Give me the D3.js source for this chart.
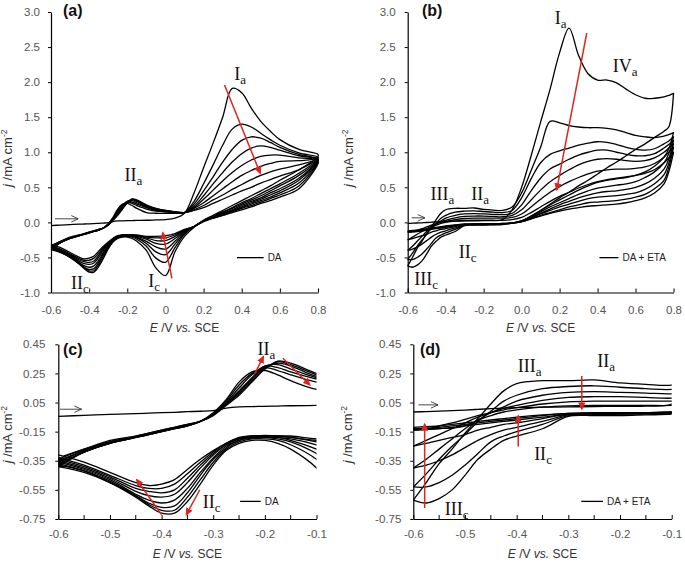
<!DOCTYPE html>
<html>
<head>
<meta charset="utf-8">
<script src="https://cdn.jsdelivr.net/npm/d3@7/dist/d3.min.js"></script>
<style>
html,body{margin:0;padding:0;background:#fff;}
svg{display:block;}
</style>
</head>
<body>
<svg id="fig" width="685" height="564"></svg>
<script>
// ================= DATA =================
// Potential grid (V vs. SCE) for DA cycles (panels a and c)
const potentialDA = [-0.6,-0.55,-0.5,-0.45,-0.425,-0.4,-0.375,-0.35,-0.325,-0.3,-0.275,-0.25,-0.225,-0.2,-0.175,-0.15,-0.1,-0.05,0,0.05,0.1,0.15,0.2,0.25,0.3,0.35,0.4,0.45,0.5,0.55,0.6,0.7,0.8];
// Forward (anodic-going) scans, cycles 1..8, j / mA cm-2
const forwardDA = [
 [-0.045,-0.038,-0.032,-0.026,-0.023,-0.02,-0.017,-0.013,-0.01,-0.005,0.012,0.02,0.022,0.024,0.026,0.028,0.03,0.035,0.04,0.06,0.13,0.42,0.78,1.13,1.5,1.91,1.85,1.63,1.44,1.3,1.18,1.04,0.97],
 [-0.39,-0.29,-0.23,-0.19,-0.17,-0.15,-0.13,-0.11,-0.08,-0.02,0.07,0.19,0.26,0.27,0.24,0.2,0.14,0.13,0.13,0.13,0.14,0.3,0.55,0.82,1.1,1.33,1.4,1.36,1.27,1.18,1.1,0.99,0.93],
 [-0.38,-0.29,-0.23,-0.19,-0.17,-0.15,-0.13,-0.11,-0.08,-0.025,0.06,0.17,0.25,0.29,0.27,0.24,0.19,0.16,0.15,0.14,0.14,0.26,0.45,0.65,0.86,1.04,1.17,1.22,1.2,1.14,1.07,0.97,0.91],
 [-0.37,-0.29,-0.23,-0.19,-0.17,-0.15,-0.13,-0.11,-0.08,-0.03,0.05,0.15,0.24,0.3,0.29,0.26,0.21,0.17,0.155,0.14,0.14,0.23,0.38,0.55,0.71,0.86,0.98,1.06,1.09,1.07,1.03,0.95,0.9],
 [-0.36,-0.28,-0.22,-0.185,-0.165,-0.145,-0.125,-0.105,-0.08,-0.03,0.045,0.13,0.22,0.3,0.31,0.28,0.22,0.18,0.16,0.145,0.14,0.21,0.33,0.46,0.59,0.71,0.81,0.89,0.94,0.96,0.96,0.92,0.89],
 [-0.35,-0.28,-0.22,-0.185,-0.165,-0.145,-0.125,-0.105,-0.08,-0.035,0.04,0.12,0.21,0.29,0.32,0.3,0.23,0.19,0.165,0.145,0.14,0.2,0.28,0.38,0.48,0.58,0.67,0.74,0.8,0.84,0.87,0.88,0.89],
 [-0.34,-0.27,-0.22,-0.18,-0.16,-0.14,-0.12,-0.1,-0.08,-0.035,0.035,0.11,0.2,0.28,0.33,0.31,0.24,0.195,0.17,0.15,0.14,0.18,0.24,0.32,0.39,0.47,0.54,0.61,0.67,0.72,0.76,0.82,0.88],
 [-0.33,-0.27,-0.21,-0.18,-0.16,-0.14,-0.12,-0.1,-0.08,-0.04,0.03,0.1,0.19,0.28,0.335,0.32,0.25,0.2,0.17,0.15,0.14,0.17,0.21,0.27,0.33,0.39,0.45,0.5,0.56,0.61,0.66,0.75,0.88]
];
// Reverse (cathodic-going) scans, same cycles, values listed at the ascending grid
const reverseDA = [
 [-0.39,-0.43,-0.5,-0.6,-0.66,-0.71,-0.71,-0.63,-0.51,-0.38,-0.28,-0.23,-0.21,-0.21,-0.23,-0.27,-0.4,-0.65,-0.76,-0.42,-0.2,-0.07,0.03,0.1,0.17,0.24,0.31,0.38,0.45,0.52,0.6,0.75,0.94],
 [-0.38,-0.42,-0.5,-0.59,-0.65,-0.69,-0.69,-0.6,-0.48,-0.36,-0.27,-0.22,-0.2,-0.2,-0.21,-0.24,-0.34,-0.51,-0.57,-0.36,-0.17,-0.06,0.03,0.09,0.15,0.21,0.28,0.34,0.41,0.48,0.55,0.7,0.9],
 [-0.37,-0.42,-0.49,-0.59,-0.64,-0.67,-0.66,-0.57,-0.45,-0.34,-0.26,-0.21,-0.195,-0.19,-0.2,-0.22,-0.3,-0.42,-0.46,-0.31,-0.15,-0.06,0.02,0.08,0.14,0.2,0.26,0.32,0.38,0.45,0.52,0.67,0.89],
 [-0.36,-0.41,-0.48,-0.58,-0.62,-0.64,-0.62,-0.54,-0.43,-0.33,-0.25,-0.21,-0.19,-0.19,-0.19,-0.21,-0.27,-0.35,-0.38,-0.27,-0.14,-0.06,0.02,0.08,0.13,0.18,0.24,0.3,0.35,0.42,0.48,0.63,0.88],
 [-0.35,-0.4,-0.47,-0.56,-0.59,-0.6,-0.58,-0.5,-0.4,-0.31,-0.24,-0.2,-0.19,-0.185,-0.19,-0.2,-0.24,-0.3,-0.31,-0.23,-0.13,-0.06,0.02,0.07,0.12,0.17,0.22,0.28,0.33,0.39,0.45,0.6,0.87],
 [-0.34,-0.39,-0.46,-0.54,-0.56,-0.57,-0.55,-0.47,-0.38,-0.3,-0.24,-0.2,-0.185,-0.18,-0.18,-0.19,-0.22,-0.26,-0.26,-0.2,-0.12,-0.06,0.02,0.07,0.11,0.16,0.21,0.26,0.31,0.36,0.42,0.56,0.86],
 [-0.33,-0.38,-0.45,-0.52,-0.54,-0.54,-0.51,-0.44,-0.36,-0.29,-0.23,-0.195,-0.18,-0.18,-0.18,-0.19,-0.21,-0.22,-0.22,-0.18,-0.11,-0.06,0.02,0.06,0.1,0.15,0.2,0.24,0.29,0.34,0.39,0.52,0.85],
 [-0.31,-0.36,-0.43,-0.5,-0.52,-0.51,-0.48,-0.41,-0.34,-0.28,-0.23,-0.19,-0.18,-0.175,-0.18,-0.18,-0.2,-0.2,-0.19,-0.16,-0.1,-0.06,0.01,0.06,0.1,0.14,0.18,0.22,0.27,0.31,0.36,0.48,0.84]
];

// Potential grid for DA + ETA cycles (panels b and d)
const potentialETA = [-0.6,-0.575,-0.55,-0.525,-0.5,-0.475,-0.45,-0.425,-0.4,-0.35,-0.3,-0.25,-0.2,-0.15,-0.1,-0.05,0,0.05,0.1,0.15,0.2,0.25,0.3,0.35,0.4,0.45,0.5,0.55,0.6,0.65,0.7,0.75,0.775,0.8];
const forwardETA = [
 [-0.015,-0.012,-0.009,-0.006,-0.002,0.003,0.008,0.012,0.015,0.018,0.02,0.022,0.024,0.025,0.04,0.18,0.5,0.95,1.43,1.9,2.42,2.77,2.38,2.12,2.03,2.03,1.99,1.9,1.82,1.77,1.77,1.79,1.81,1.84],
 [-0.62,-0.5,-0.37,-0.27,-0.16,-0.06,0.04,0.13,0.18,0.2,0.2,0.205,0.185,0.175,0.17,0.22,0.42,0.74,1.07,1.44,1.42,1.38,1.36,1.35,1.35,1.34,1.32,1.28,1.24,1.22,1.21,1.23,1.25,1.28],
 [-0.53,-0.44,-0.34,-0.25,-0.17,-0.08,-0.01,0.06,0.1,0.145,0.16,0.165,0.155,0.145,0.14,0.17,0.35,0.62,0.85,0.97,1.02,1.06,1.1,1.13,1.15,1.14,1.11,1.07,1.04,1.03,1.05,1.12,1.16,1.22],
 [-0.4,-0.34,-0.27,-0.2,-0.13,-0.07,-0.02,0.02,0.06,0.1,0.12,0.125,0.12,0.115,0.11,0.13,0.25,0.45,0.63,0.76,0.83,0.9,0.96,1.0,1.03,1.03,1.0,0.97,0.95,0.95,0.98,1.06,1.11,1.17],
 [-0.25,-0.21,-0.17,-0.13,-0.09,-0.05,-0.02,0.01,0.03,0.065,0.085,0.09,0.09,0.085,0.08,0.1,0.18,0.32,0.46,0.58,0.67,0.75,0.82,0.87,0.9,0.91,0.9,0.88,0.87,0.88,0.92,1.0,1.06,1.12],
 [-0.14,-0.13,-0.11,-0.09,-0.065,-0.04,-0.02,0.0,0.015,0.04,0.055,0.06,0.06,0.06,0.06,0.07,0.12,0.22,0.33,0.43,0.51,0.58,0.64,0.69,0.73,0.75,0.76,0.76,0.77,0.79,0.84,0.93,1.0,1.07],
 [-0.13,-0.13,-0.128,-0.125,-0.11,-0.07,-0.04,-0.015,0.0,0.018,0.027,0.03,0.03,0.03,0.03,0.04,0.07,0.14,0.22,0.3,0.37,0.43,0.49,0.54,0.58,0.61,0.63,0.65,0.67,0.7,0.75,0.85,0.92,1.0]
];
const reverseETA = [
 [-0.62,-0.64,-0.61,-0.55,-0.45,-0.34,-0.27,-0.21,-0.18,-0.13,-0.045,-0.04,-0.04,-0.035,-0.03,-0.01,0.02,0.09,0.17,0.26,0.35,0.43,0.52,0.6,0.69,0.78,0.86,0.95,1.04,1.12,1.21,1.3,1.36,1.84],
 [-0.53,-0.53,-0.5,-0.45,-0.38,-0.3,-0.22,-0.18,-0.15,-0.1,-0.04,-0.035,-0.03,-0.03,-0.025,-0.01,0.02,0.09,0.17,0.25,0.32,0.39,0.46,0.52,0.57,0.6,0.62,0.64,0.67,0.72,0.8,0.93,1.05,1.28],
 [-0.4,-0.38,-0.35,-0.31,-0.26,-0.21,-0.17,-0.14,-0.12,-0.08,-0.035,-0.03,-0.03,-0.025,-0.02,-0.01,0.02,0.08,0.15,0.22,0.28,0.34,0.4,0.45,0.49,0.51,0.53,0.55,0.58,0.64,0.72,0.85,0.98,1.22],
 [-0.25,-0.23,-0.21,-0.19,-0.17,-0.14,-0.12,-0.1,-0.09,-0.06,-0.03,-0.03,-0.025,-0.025,-0.02,-0.01,0.01,0.07,0.13,0.19,0.25,0.3,0.35,0.39,0.42,0.44,0.45,0.47,0.5,0.55,0.63,0.76,0.9,1.17],
 [-0.14,-0.135,-0.13,-0.12,-0.11,-0.1,-0.09,-0.08,-0.07,-0.05,-0.03,-0.025,-0.025,-0.02,-0.02,-0.01,0.01,0.06,0.12,0.17,0.22,0.26,0.3,0.34,0.36,0.37,0.38,0.4,0.42,0.47,0.55,0.68,0.84,1.12],
 [-0.13,-0.125,-0.12,-0.11,-0.1,-0.09,-0.08,-0.07,-0.06,-0.04,-0.025,-0.025,-0.02,-0.02,-0.015,-0.01,0.01,0.05,0.1,0.14,0.18,0.22,0.25,0.28,0.29,0.3,0.31,0.33,0.36,0.4,0.48,0.6,0.78,1.07],
 [-0.12,-0.115,-0.11,-0.1,-0.09,-0.08,-0.07,-0.06,-0.05,-0.035,-0.025,-0.02,-0.02,-0.02,-0.015,-0.01,0.01,0.05,0.09,0.13,0.16,0.19,0.21,0.23,0.24,0.25,0.26,0.28,0.31,0.35,0.42,0.55,0.72,1.0]
];

// Tick values and labels
const yTicksTop = [3.0,2.5,2.0,1.5,1.0,0.5,0.0,-0.5,-1.0];
const yTickLabelsTop = ["3.0","2.5","2.0","1.5","1.0","0.5","0.0","-0.5","-1.0"];
const xTicksTop = [-0.6,-0.4,-0.2,0,0.2,0.4,0.6,0.8];
const xTickLabelsA = ["-0.6","-0.4","-0.2","0","0.2","0.4","0.6","0.8"];
const xTickLabelsB = ["-0.6","-0.4","-0.2","0.0","0.2","0.4","0.6","0.8"];
const yTicksBottom = [0.45,0.25,0.05,-0.15,-0.35,-0.55,-0.75];
const yTickLabelsBottom = ["0.45","0.25","0.05","-0.15","-0.35","-0.55","-0.75"];
const xTicksBottom = [-0.6,-0.5,-0.4,-0.3,-0.2,-0.1];
const xTickLabelsBottom = ["-0.6","-0.5","-0.4","-0.3","-0.2","-0.1"];
const xMinorBottom = [-0.55,-0.45,-0.35,-0.25,-0.15];

// Annotations (data units)
const peakLabelsA = [{m:"I",s:"a",E:0.392,j:2.03},{m:"II",s:"a",E:-0.168,j:0.586},{m:"I",s:"c",E:-0.059,j:-0.915},{m:"II",s:"c",E:-0.448,j:-0.953}];
const peakLabelsB = [{m:"I",s:"a",E:0.206,j:2.83},{m:"IV",s:"a",E:0.545,j:2.15},{m:"III",s:"a",E:-0.417,j:0.325},{m:"II",s:"a",E:-0.219,j:0.325},{m:"II",s:"c",E:-0.284,j:-0.503},{m:"III",s:"c",E:-0.503,j:-0.896}];
const peakLabelsC = [{m:"II",s:"a",E:-0.197,j:0.377},{m:"II",s:"c",E:-0.303,j:-0.675}];
const peakLabelsD = [{m:"III",s:"a",E:-0.375,j:0.263},{m:"II",s:"a",E:-0.227,j:0.297},{m:"II",s:"c",E:-0.349,j:-0.343},{m:"III",s:"c",E:-0.516,j:-0.72}];
const redArrowsA = [[0.31,1.96,0.497,0.70],[0.034,-0.80,-0.014,-0.15]];
const redArrowsB = [[0.343,2.70,0.185,0.467]];
const redArrowsC = [[-0.219,0.251,-0.203,0.365],[-0.165,0.354,-0.113,0.171],[-0.40,-0.72,-0.448,-0.48],[-0.326,-0.549,-0.352,-0.72]];
const redArrowsD = [[-0.578,-0.675,-0.578,-0.099],[-0.397,-0.252,-0.397,-0.041],[-0.274,0.233,-0.274,0.007]];
const scanArrows = {a:[-0.579,-0.456,0.051], b:[-0.579,-0.509,0.065], c:[-0.597,-0.555,0.004], d:[-0.59,-0.552,0.034]};
const legends = {a:{E1:0.375,E2:0.515,j:-0.503,text:"DA"}, b:{E1:0.41,E2:0.51,j:-0.503,text:"DA + ETA"}, c:{E1:-0.248,E2:-0.208,j:-0.629,text:"DA"}, d:{E1:-0.275,E2:-0.233,j:-0.629,text:"DA + ETA"}};

// ================= DRAWING =================
const RED = "#e0231c";
const SANS = "'Liberation Sans', Arial, sans-serif";
const SERIF = "'Liberation Serif', 'Times New Roman', serif";
const svg = d3.select("#fig");
const defs = svg.append("defs");
defs.append("marker").attr("id","redHead").attr("viewBox","0 0 10 10").attr("refX",8).attr("refY",5)
  .attr("markerWidth",8).attr("markerHeight",8).attr("markerUnits","userSpaceOnUse").attr("orient","auto")
  .append("path").attr("d","M0,0.5 L10,5 L0,9.5 z").attr("fill",RED);
defs.append("marker").attr("id","openHead").attr("viewBox","0 0 10 10").attr("refX",10).attr("refY",5)
  .attr("markerWidth",8).attr("markerHeight",8).attr("markerUnits","userSpaceOnUse").attr("orient","auto")
  .append("path").attr("d","M1,1 L10,5 L1,9").attr("fill","none").attr("stroke","#333").attr("stroke-width",1.1);

const panels = [
 {id:"a", left:51, right:318, top:12, bottom:292.5, xDom:[-0.6,0.8], yDom:[-1,3], grid:potentialDA, fwd:forwardDA, rev:reverseDA,
  yTicks:yTicksTop, yLabels:yTickLabelsTop, xTicks:xTicksTop, xLabels:xTickLabelsA, xMinor:[], yPad:8, xPad:13, clip:false,
  letter:"(a)", lx:63, ly:16, peaks:peakLabelsA, arrows:redArrowsA, scan:scanArrows.a, legend:legends.a, titleY:332, yTitleX:12, yTitleShift:6},
 {id:"b", left:407.7, right:673.5, top:12, bottom:292.5, xDom:[-0.6,0.8], yDom:[-1,3], grid:potentialETA, fwd:forwardETA, rev:reverseETA,
  yTicks:yTicksTop, yLabels:yTickLabelsTop, xTicks:xTicksTop, xLabels:xTickLabelsB, xMinor:[], yPad:9, xPad:13, clip:false,
  letter:"(b)", lx:422, ly:16, peaks:peakLabelsB, arrows:redArrowsB, scan:scanArrows.b, legend:legends.b, titleY:332, yTitleX:353, yTitleShift:6},
 {id:"c", left:58.3, right:316.5, top:344.3, bottom:519, xDom:[-0.6,-0.1], yDom:[-0.75,0.45], grid:potentialDA, fwd:forwardDA, rev:reverseDA,
  yTicks:yTicksBottom, yLabels:yTickLabelsBottom, xTicks:xTicksBottom, xLabels:xTickLabelsBottom, xMinor:xMinorBottom, yPad:10, xPad:11, clip:true,
  letter:"(c)", lx:63, ly:355, peaks:peakLabelsC, arrows:redArrowsC, scan:scanArrows.c, legend:legends.c, titleY:558, yTitleX:12, yTitleShift:3},
 {id:"d", left:413.3, right:671.7, top:344.3, bottom:519, xDom:[-0.6,-0.1], yDom:[-0.75,0.45], grid:potentialETA, fwd:forwardETA, rev:reverseETA,
  yTicks:yTicksBottom, yLabels:yTickLabelsBottom, xTicks:xTicksBottom, xLabels:xTickLabelsBottom, xMinor:xMinorBottom, yPad:9, xPad:11, clip:true,
  letter:"(d)", lx:420, ly:355, peaks:peakLabelsD, arrows:redArrowsD, scan:scanArrows.d, legend:legends.d, titleY:558, yTitleX:352, yTitleShift:3}
];

panels.forEach(p => {
  const x = d3.scaleLinear().domain(p.xDom).range([p.left, p.right]);
  const y = d3.scaleLinear().domain(p.yDom).range([p.bottom, p.top]);
  const g = svg.append("g");

  // curves
  const cg = g.append("g");
  if (p.clip) {
    defs.append("clipPath").attr("id","clip-"+p.id).append("rect")
      .attr("x",p.left).attr("y",p.top).attr("width",p.right-p.left).attr("height",p.bottom-p.top);
    cg.attr("clip-path","url(#clip-"+p.id+")");
  }
  const line = d3.line().x(d=>x(d[0])).y(d=>y(d[1])).curve(d3.curveCatmullRom.alpha(0.5));
  p.fwd.forEach((f,i) => {
    const r = p.rev[i];
    const pts = p.grid.map((E,k)=>[E,f[k]]);
    for (let k=p.grid.length-1;k>=0;k--) pts.push([p.grid[k], r[k]]);
    cg.append("path").attr("d",line(pts)).attr("fill","none").attr("stroke","#000")
      .attr("stroke-width",1.3).attr("stroke-linejoin","round");
  });

  // y axis
  const ya = g.append("g").attr("transform",`translate(${p.left},0)`)
    .call(d3.axisLeft(y).tickValues(p.yTicks).tickFormat((d,i)=>p.yLabels[i]).tickSizeInner(3).tickSizeOuter(0).tickPadding(p.yPad));
  // x axis
  const xa = g.append("g").attr("transform",`translate(0,${p.bottom})`)
    .call(d3.axisBottom(x).tickValues(p.xTicks).tickFormat((d,i)=>p.xLabels[i]).tickSizeInner(-4).tickSizeOuter(0).tickPadding(p.xPad));
  [ya,xa].forEach(a => {
    a.attr("font-family",SANS).attr("font-size",11.5);
    a.selectAll("text").attr("fill","#555");
    a.selectAll("line").attr("stroke","#000").attr("stroke-width",1);
    a.select(".domain").attr("stroke","#000").attr("stroke-width",1.2);
  });
  p.xMinor.forEach(E => {
    g.append("line").attr("x1",x(E)).attr("x2",x(E)).attr("y1",p.bottom).attr("y2",p.bottom-4)
      .attr("stroke","#000").attr("stroke-width",1);
  });

  // axis titles
  const xt = g.append("text").attr("x",(p.left+p.right)/2).attr("y",p.titleY).attr("text-anchor","middle")
    .attr("font-family",SANS).attr("font-size",12).attr("fill","#333");
  xt.append("tspan").attr("font-style","italic").text("E");
  xt.append("tspan").text(" /V ");
  xt.append("tspan").attr("font-style","italic").text("vs.");
  xt.append("tspan").text(" SCE");
  const cy = (p.top+p.bottom)/2 + p.yTitleShift;
  const yt = g.append("text").attr("transform",`translate(${p.yTitleX},${cy}) rotate(-90)`).attr("text-anchor","middle")
    .attr("font-family",SANS).attr("font-size",13).attr("fill","#333");
  yt.append("tspan").attr("font-style","italic").text("j");
  yt.append("tspan").text(" /mA cm");
  yt.append("tspan").attr("font-size",8.5).attr("dy",-5).text("-2");

  // panel letter
  g.append("text").attr("x",p.lx).attr("y",p.ly).attr("font-family",SANS).attr("font-weight","bold")
    .attr("font-size",16).attr("fill","#111").text(p.letter);

  // peak labels
  p.peaks.forEach(l => {
    const t = g.append("text").attr("x",x(l.E)).attr("y",y(l.j)).attr("text-anchor","middle")
      .attr("font-family",SERIF).attr("font-size",18).attr("fill","#111");
    t.append("tspan").text(l.m);
    t.append("tspan").attr("dy",4).attr("font-size",13).text(l.s);
  });

  // red arrows
  p.arrows.forEach(a => {
    g.append("line").attr("x1",x(a[0])).attr("y1",y(a[1])).attr("x2",x(a[2])).attr("y2",y(a[3]))
      .attr("stroke",RED).attr("stroke-width",1.5).attr("marker-end","url(#redHead)");
  });

  // first-scan direction arrow
  g.append("line").attr("x1",x(p.scan[0])).attr("x2",x(p.scan[1])).attr("y1",y(p.scan[2])).attr("y2",y(p.scan[2]))
    .attr("stroke","#333").attr("stroke-width",0.9).attr("marker-end","url(#openHead)");

  // legend
  const L = p.legend;
  g.append("line").attr("x1",x(L.E1)).attr("x2",x(L.E2)).attr("y1",y(L.j)).attr("y2",y(L.j))
    .attr("stroke","#000").attr("stroke-width",1.3);
  g.append("text").attr("x",x(L.E2)+4).attr("y",y(L.j)+3.5).attr("font-family",SANS).attr("font-size",10)
    .attr("fill","#222").text(L.text);
});
</script>
</body>
</html>
